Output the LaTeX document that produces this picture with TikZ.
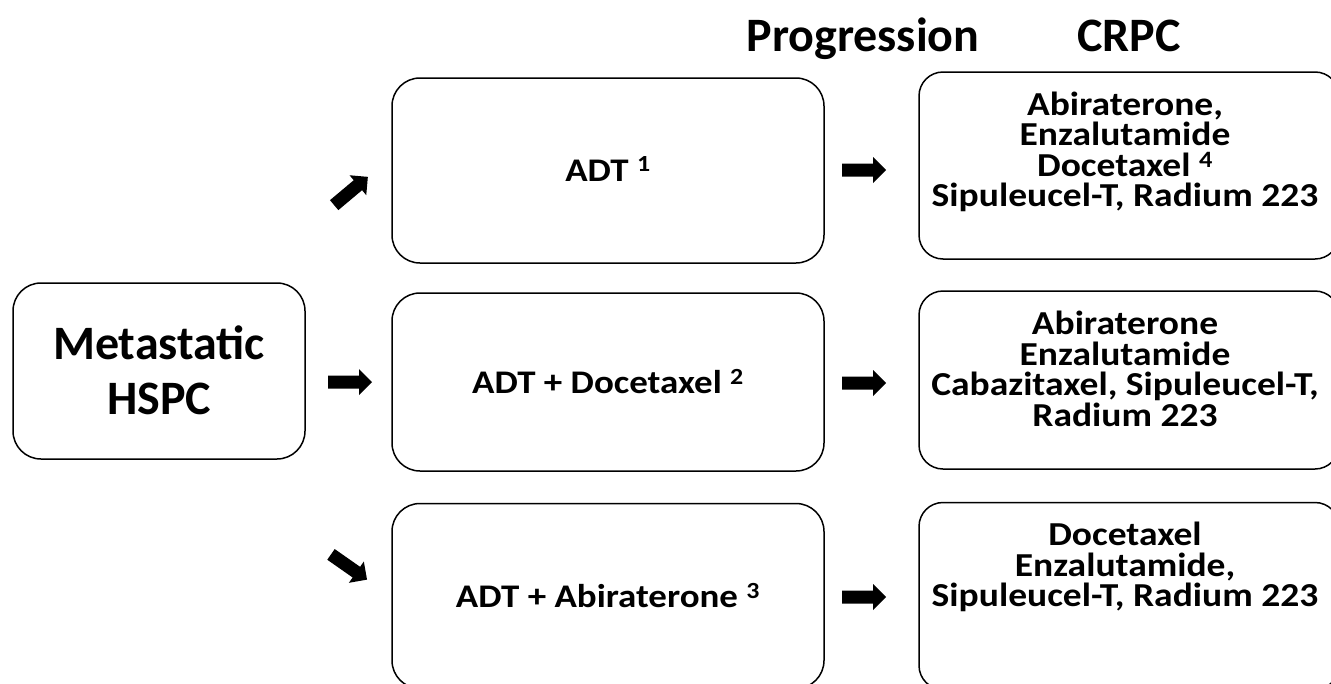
\documentclass[tikz,border=0pt]{standalone}
\usepackage{fontspec}
\setmainfont{Carlito}
\newfontfamily\widefont{Carlito}[FakeStretch=1.12]
\begin{document}
\begin{tikzpicture}[x=1pt,y=-1pt,
  box/.style={draw=black, line width=1.5pt, rounded corners=28pt, inner sep=0pt},
  rbox/.style={box, rounded corners=24pt, minimum width=420pt},
  mbox/.style={box, minimum width=432pt},
  bigtxt/.style={align=center, inner sep=0pt, font=\bfseries\fontsize{48}{55}\selectfont},
  midtxt/.style={align=center, inner sep=0pt, font=\widefont\bfseries\fontsize{33}{36}\selectfont},
  rtxt/.style={align=center, inner sep=0pt, font=\widefont\bfseries\fontsize{33.5}{30.5}\selectfont},
  ttl/.style={anchor=base, inner sep=0pt, font=\bfseries\fontsize{48}{50}\selectfont},
  blockarrow/.pic={\fill[black] (-22,-6.5) -- (9,-6.5) -- (9,-13) -- (22,0) -- (9,13) -- (9,6.5) -- (-22,6.5) -- cycle;}
]
\useasboundingbox (0,0) rectangle (1331,683);
\clip (0,0) rectangle (1331,683);

% titles
\node[ttl] (prog) at (863,51) {Progression};
\node[ttl] (crpc) at (1129,51) {CRPC};

% left box
\node[box, minimum width=292pt, minimum height=176pt] (meta) at (159,371) {};
\node[bigtxt] (metat) at (159,370) {Metastatic\\HSPC};

% middle boxes
\node[mbox, minimum height=185pt] (b1) at (608,170.5) {};
\node[midtxt] (b1t) at (608,169) {ADT \textsuperscript{1}};
\node[mbox, minimum height=178pt] (b2) at (608,382) {};
\node[midtxt] (b2t) at (608,382) {ADT + Docetaxel \textsuperscript{2}};
\node[mbox, minimum height=185pt] (b3) at (608,596) {};
\node[midtxt] (b3t) at (608,596) {ADT + Abiraterone \textsuperscript{3}};

% right boxes
\node[rbox, minimum height=187pt] (r1) at (1129,165.5) {};
\node[rtxt] (r1t) at (1125,152) {Abiraterone,\\Enzalutamide\\Docetaxel \textsuperscript{4}\\Sipuleucel-T, Radium 223};
\node[rbox, minimum height=178pt] (r2) at (1129,380) {};
\node[rtxt] (r2t) at (1125,369) {Abiraterone\\Enzalutamide\\Cabazitaxel, Sipuleucel-T,\\Radium 223};
\node[rbox, minimum height=187pt] (r3) at (1129,596) {};
\node[rtxt] (r3t) at (1125,567) {Docetaxel\\Enzalutamide,\\Sipuleucel-T, Radium 223};

% block arrows
\pic[rotate=40] at (351,191) {blockarrow};
\pic at (350,382) {blockarrow};
\pic[rotate=-35] at (349,567) {blockarrow};
\pic at (864,170) {blockarrow};
\pic at (864,383) {blockarrow};
\pic at (864,597) {blockarrow};
\end{tikzpicture}
\end{document}
